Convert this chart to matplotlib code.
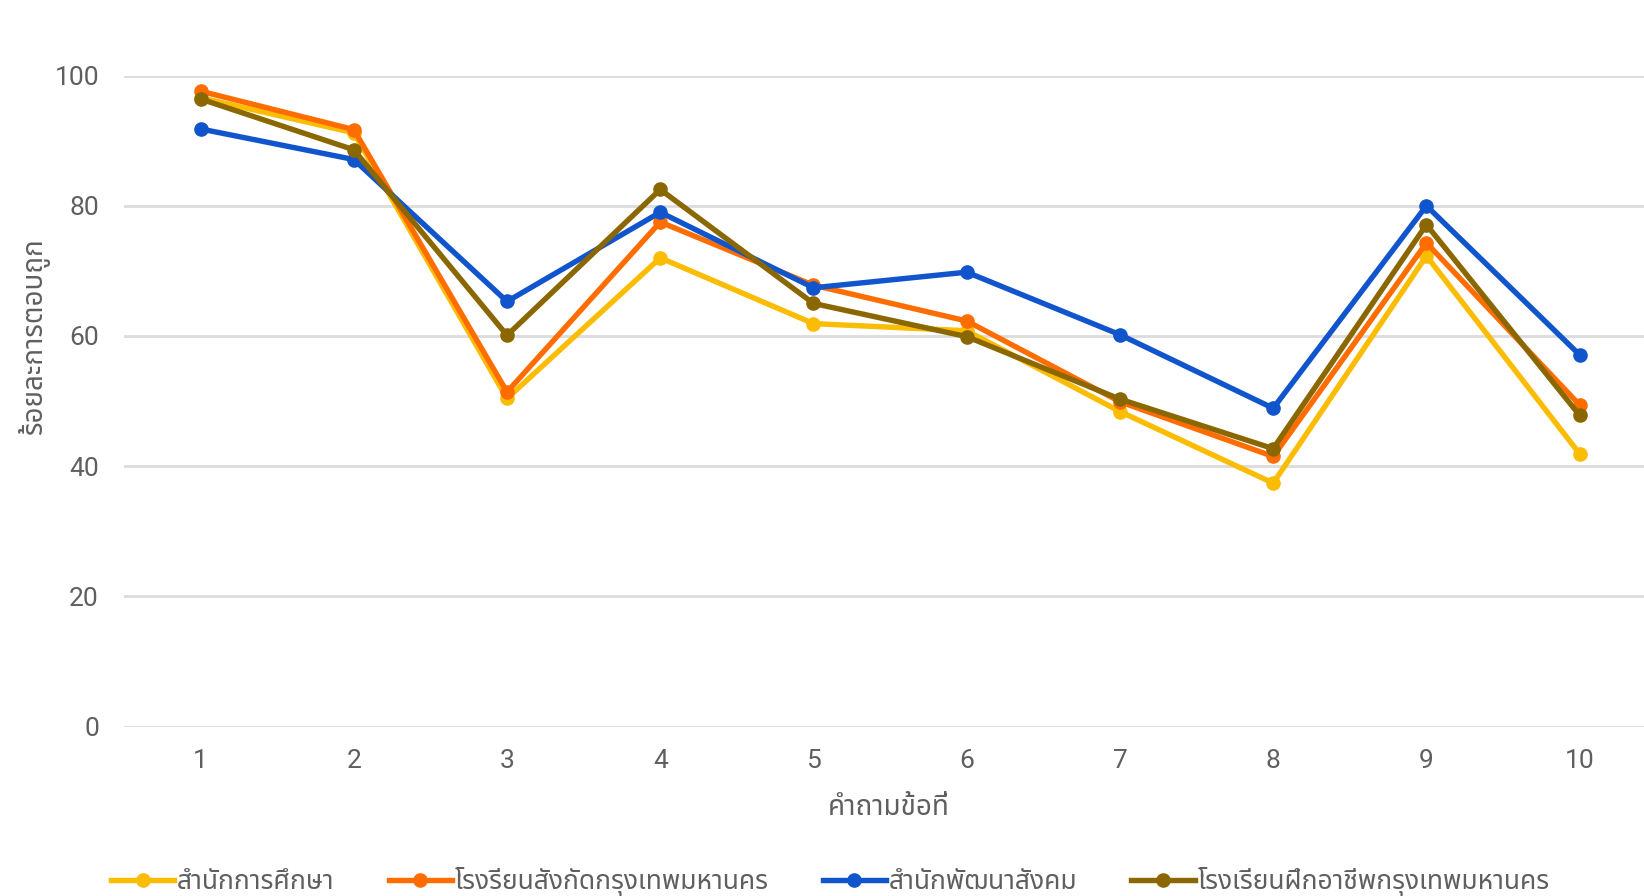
import numpy as np
import matplotlib
matplotlib.use("Agg")
import matplotlib.pyplot as plt
from matplotlib import font_manager
from fontTools.ttLib import TTFont

questions = [1, 2, 3, 4, 5, 6, 7, 8, 9, 10]
series_names = [
    "สำนักการศึกษา",
    "โรงรียนสังกัดกรุงเทพมหานคร",
    "สำนักพัฒนาสังคม",
    "โรงเรียนฝึกอาชีพกรุงเทพมหานคร",
]
edu_office = [96.6, 91.2, 50.4, 72.0, 61.9, 60.8, 48.4, 37.4, 72.3, 41.9]
bma_schools = [97.6, 91.7, 51.4, 77.5, 67.8, 62.3, 49.9, 41.5, 74.3, 49.4]
social_dev = [91.8, 87.1, 65.3, 79.0, 67.4, 69.8, 60.2, 48.9, 80.0, 57.1]
vocational = [96.4, 88.6, 60.1, 82.5, 65.0, 59.9, 50.3, 42.7, 77.1, 47.8]
colors = ["#FBBC04", "#FF6D01", "#1155CC", "#8A6700"]
yticks = [0, 20, 40, 60, 80, 100]


def find_thai_font():
    # look for any installed face that has Thai glyphs
    preferred = ["Noto Sans Thai", "Noto Sans Thai UI", "Noto Sans Thai Looped",
                 "Tlwg Typist", "Loma", "Garuda", "Kinnari", "Sarabun"]
    found = []
    for f in font_manager.fontManager.ttflist:
        try:
            tt = TTFont(f.fname, fontNumber=0, lazy=True)
            cmap = tt.getBestCmap()
            if cmap and 0x0E01 in cmap and 0x0E33 in cmap:
                found.append(f.name)
        except Exception:
            pass
    for p in preferred:
        if p in found:
            return p
    return found[0] if found else None


thai = find_thai_font()
families = ["Roboto"] + ([thai] if thai else []) + ["DejaVu Sans"]
thai_families = ([thai] if thai else []) + ["DejaVu Sans"]
plt.rcParams["font.family"] = families

text_color = "#5f5f5f"
series = [edu_office, bma_schools, social_dev, vocational]

fig = plt.figure(figsize=(16.44, 8.96), dpi=100)
ax = fig.add_axes([0.0754, 0.189, 0.9246, 0.7267])

for name, vals, c in zip(series_names, series, colors):
    ax.plot(questions, vals, color=c, lw=3.9, marker="o", markersize=9.5,
            label=name, clip_on=False, solid_joinstyle="round")

ax.set_xlim(0.5, 10.42)
ax.set_ylim(0, 100)
ax.set_yticks(yticks)
ax.set_xticks(questions)
ax.grid(axis="y", color="#dcdcdc", lw=2)
ax.set_axisbelow(True)
for s in ax.spines.values():
    s.set_visible(False)
ax.tick_params(axis="both", length=0, labelsize=19, labelcolor=text_color)
ax.tick_params(axis="y", pad=18)
ax.tick_params(axis="x", pad=16)

ax.set_xlabel("คำถามข้อที่", fontsize=20, color=text_color,
              family=thai_families)
ax.xaxis.set_label_coords(0.503, -0.104)
ax.set_ylabel("ร้อยละการตอบถูก", fontsize=20, color=text_color,
              family=thai_families)
ax.yaxis.set_label_coords(-0.049, 0.60)

leg = fig.legend(loc="center left", bbox_to_anchor=(0.0595, 0.016), ncol=4,
                 frameon=False, borderpad=0, handlelength=2.4,
                 handletextpad=0.1, columnspacing=2.05,
                 prop={"family": thai_families, "size": 19})
for t in leg.get_texts():
    t.set_color(text_color)

fig.savefig("out.png", dpi=100)
